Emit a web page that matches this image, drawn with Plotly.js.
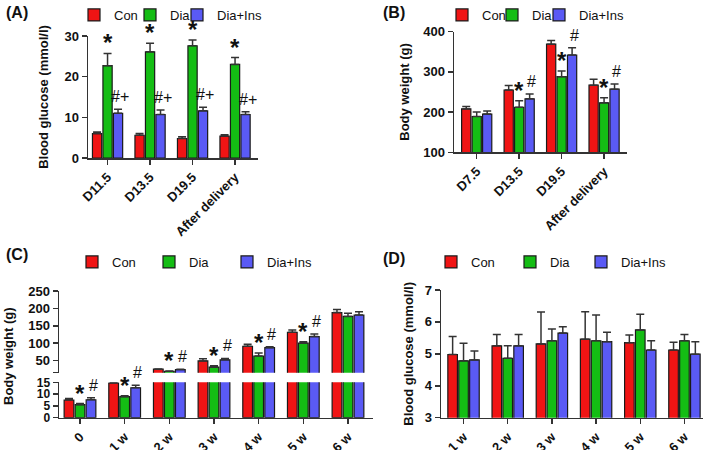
<!DOCTYPE html>
<html>
<head>
<meta charset="utf-8">
<script src="https://cdn.plot.ly/plotly-3.0.1.min.js"></script>
<style>
  html, body { margin: 0; padding: 0; background: #fff; }
  #chart { width: 709px; height: 450px; }
</style>
</head>
<body>
<div id="chart"></div>
<script>
const W = 709, H = 450;
const groups = ["Con", "Dia", "Dia+Ins"];
const colors = ["#f01414", "#14bd14", "#5a5af5"];

// (A) maternal blood glucose, mmol/l
const catA = ["D11.5", "D13.5", "D19.5", "After delivery"];
const conA = [6.0, 5.6, 4.8, 5.4];
const conAErr = [0.4, 0.4, 0.4, 0.3];
const diaA = [22.7, 26.1, 27.6, 23.0];
const diaAErr = [3.0, 2.1, 1.4, 1.7];
const insA = [11.0, 10.7, 11.6, 10.7];
const insAErr = [1.0, 1.1, 0.9, 0.7];
const diaAMark = ["*", "*", "*", "*"];
const insAMark = ["#+", "#+", "#+", "#+"];

// (B) maternal body weight, g
const catB = ["D7.5", "D13.5", "D19.5", "After delivery"];
const conB = [208, 255, 369, 267];
const conBErr = [6, 11, 9, 15];
const diaB = [189, 212, 288, 223];
const diaBErr = [11, 16, 14, 13];
const insB = [195, 233, 342, 257];
const insBErr = [8, 12, 18, 13];
const diaBMark = ["", "*", "*", "*"];
const insBMark = ["", "#", "#", "#"];

// (C) offspring body weight, g (axis broken at 15)
const catC = ["0", "1 w", "2 w", "3 w", "4 w", "5 w", "6 w"];
const conC = [7.5, 14.7, 25, 49, 91, 131, 188];
const conCErr = [0.6, 0.2, 1, 6, 6, 7, 9];
const diaC = [5.5, 8.9, 19, 31, 63, 100, 177];
const diaCErr = [0.5, 0.4, 1, 4, 9, 4, 9];
const insC = [7.6, 12.7, 24, 52, 87, 119, 181];
const insCErr = [0.9, 1.0, 1, 4, 3, 7, 9];
const diaCMark = ["*", "*", "*", "*", "*", "*", ""];
const insCMark = ["#", "#", "#", "#", "#", "#", ""];
const breakC = 15;

// (D) offspring blood glucose, mmol/l
const catD = ["1 w", "2 w", "3 w", "4 w", "5 w", "6 w"];
const conD = [4.98, 5.25, 5.31, 5.46, 5.35, 5.12];
const conDErr = [0.56, 0.36, 1.0, 0.86, 0.24, 0.24];
const diaD = [4.78, 4.86, 5.41, 5.41, 5.75, 5.41];
const diaDErr = [0.55, 0.39, 0.37, 0.81, 0.49, 0.2];
const insD = [4.81, 5.25, 5.65, 5.38, 5.12, 4.99];
const insDErr = [0.28, 0.36, 0.2, 0.3, 0.29, 0.39];

const FONT = "Liberation Sans, Arial, sans-serif";
const bargap = 0.26;

// pixel helpers for layout boxes
const fx = px => px / W;
const fy = py => 1 - py / H;

const panels = {
  A: { x: [88, 258], range: [-0.46, 3.54], legendX: [74, 130, 177], legendY: 0 },
  B: { x: [454, 627], range: [-0.535, 3.54], legendX: [442, 492, 539], legendY: 0 },
  C: { x: [59, 373], range: [-0.47, 6.56], legendX: [72, 149, 227], legendY: 247 },
  D: { x: [441, 703], range: [-0.51, 5.42], legendX: [431, 510, 581], legendY: 247 },
};

let legendCount = 0;
const legends = {};
function nextLegend(p, i) {
  legendCount += 1;
  const id = legendCount === 1 ? "legend" : "legend" + legendCount;
  legends[id] = {
    orientation: "h",
    x: fx(p.legendX[i]), xanchor: "left",
    y: fy(p.legendY), yanchor: "top",
    font: { family: FONT, size: 13, color: "#111" },
    bgcolor: "rgba(0,0,0,0)",
  };
  return id;
}

function bars(cats, vals, errs, i, xa, ya, legend) {
  return {
    type: "bar",
    name: groups[i],
    x: cats,
    y: vals,
    xaxis: xa,
    yaxis: ya,
    legend: legend || "legend",
    showlegend: !!legend,
    marker: { color: colors[i], line: { color: "#1a1a1a", width: 1.2 } },
    error_y: {
      type: "data",
      symmetric: false,
      array: errs,
      arrayminus: errs.map(() => 0),
      color: "#333",
      thickness: 1.5,
      width: 4,
    },
    hoverinfo: "skip",
  };
}

// the upper part of the broken axis only carries bars that reach past the break
const aboveBreak = vals => vals.map(v => (v > breakC ? v : null));

let data = [];
[[conA, conAErr], [diaA, diaAErr], [insA, insAErr]].forEach((s, i) =>
  data.push(bars(catA, s[0], s[1], i, "x", "y", nextLegend(panels.A, i))));
[[conB, conBErr], [diaB, diaBErr], [insB, insBErr]].forEach((s, i) =>
  data.push(bars(catB, s[0], s[1], i, "x2", "y2", nextLegend(panels.B, i))));
[[conC, conCErr], [diaC, diaCErr], [insC, insCErr]].forEach((s, i) => {
  data.push(bars(catC, s[0], s[1], i, "x3", "y3", nextLegend(panels.C, i)));
  data.push(bars(catC, aboveBreak(s[0]), s[1], i, "x3", "y5", null));
});
[[conD, conDErr], [diaD, diaDErr], [insD, insDErr]].forEach((s, i) =>
  data.push(bars(catD, s[0], s[1], i, "x4", "y4", nextLegend(panels.D, i))));

const tickFont = { family: FONT, size: 13, color: "#111", weight: "bold" };
const titleFont = { family: FONT, size: 13, color: "#111", weight: "bold" };

function xAxis(p, anchor) {
  return {
    domain: [fx(p.x[0]), fx(p.x[1])],
    range: p.range,
    anchor: anchor,
    type: "category",
    showline: true, linecolor: "#333", linewidth: 1.5,
    ticks: "outside", ticklen: 5, tickwidth: 1.5, tickcolor: "#333",
    tickangle: -45,
    tickfont: tickFont,
    showgrid: false, zeroline: false, fixedrange: true,
  };
}

function yAxis(top, bottom, range, anchor, extra) {
  return Object.assign({
    domain: [fy(bottom), fy(top)],
    range: range,
    anchor: anchor,
    showline: true, linecolor: "#333", linewidth: 1.5,
    ticks: "outside", ticklen: 5, tickwidth: 1.5, tickcolor: "#333",
    tickfont: tickFont,
    showgrid: false, zeroline: false, fixedrange: true,
  }, extra || {});
}

// significance marks sit on top of each error bar, shifted to their bar in the group
function marks(p, cats, vals, errs, labels, i, xa, yaFor, opts) {
  const pxPerCat = (p.x[1] - p.x[0]) / (p.range[1] - p.range[0]);
  const step = pxPerCat * (1 - bargap) / 3;
  const out = [];
  labels.forEach((t, j) => {
    if (!t) return;
    const top = vals[j] + errs[j];
    out.push({
      xref: xa, yref: yaFor(top),
      x: cats[j], y: top,
      text: t, showarrow: false,
      xanchor: "center", yanchor: "bottom",
      xshift: (i - 1) * step + opts.xshift,
      yshift: opts.yshift,
      font: opts.font,
    });
  });
  return out;
}

const starStyle = { xshift: 0, yshift: -5, font: { family: FONT, size: 24, color: "#111", weight: "bold" } };
const hashStyle = { xshift: 2, yshift: 2, font: { family: FONT, size: 16, color: "#111" } };
const yC = v => (v > breakC ? "y5" : "y3");

let annotations = [];
annotations = annotations.concat(
  marks(panels.A, catA, diaA, diaAErr, diaAMark, 1, "x", () => "y", starStyle),
  marks(panels.A, catA, insA, insAErr, insAMark, 2, "x", () => "y", hashStyle),
  marks(panels.B, catB, diaB, diaBErr, diaBMark, 1, "x2", () => "y2", starStyle),
  marks(panels.B, catB, insB, insBErr, insBMark, 2, "x2", () => "y2", hashStyle),
  marks(panels.C, catC, diaC, diaCErr, diaCMark, 1, "x3", yC, starStyle),
  marks(panels.C, catC, insC, insCErr, insCMark, 2, "x3", yC, hashStyle),
);

// panel letters and the shared title of the broken axis in (C)
const letterFont = { family: FONT, size: 16, color: "#111", weight: "bold" };
[["(A)", 4, 13], ["(B)", 381, 13], ["(C)", 4, 254], ["(D)", 381, 258]].forEach(l =>
  annotations.push({
    xref: "paper", yref: "paper", x: fx(l[1]), y: fy(l[2]),
    xanchor: "left", yanchor: "middle", text: l[0], showarrow: false, font: letterFont,
  }));
annotations.push({
  xref: "paper", yref: "paper", x: fx(8), y: fy(356),
  xanchor: "center", yanchor: "middle", textangle: -90,
  text: "Body weight (g)", showarrow: false, font: titleFont,
});

const layout = Object.assign({
  width: W, height: H,
  margin: { l: 0, r: 0, t: 0, b: 0 },
  paper_bgcolor: "#fff", plot_bgcolor: "#fff",
  barmode: "group", bargap: bargap, bargroupgap: 0.12,
  showlegend: true,
  font: { family: FONT, color: "#111" },

  xaxis: xAxis(panels.A, "y"),
  yaxis: yAxis(36, 158, [0, 30], "x", {
    dtick: 10,
    title: { text: "Blood glucose (mmol/l)", font: titleFont, standoff: 13 },
  }),

  xaxis2: xAxis(panels.B, "y2"),
  yaxis2: yAxis(31.7, 152.3, [100, 400], "x2", {
    dtick: 100,
    title: { text: "Body weight (g)", font: titleFont, standoff: 10 },
  }),

  xaxis3: xAxis(panels.C, "y3"),
  yaxis3: yAxis(382.3, 417.7, [0, breakC], "x3", {
    dtick: 5,
    tickfont: Object.assign({}, tickFont, { size: 12 }),
  }),
  yaxis5: yAxis(291, 372.7, [breakC, 250], "x3", {
    tickmode: "array",
    tickvals: [breakC, 50, 100, 150, 200, 250],
    ticktext: ["", "50", "100", "150", "200", "250"],
  }),

  xaxis4: xAxis(panels.D, "y4"),
  yaxis4: yAxis(290, 417.7, [3, 7], "x4", {
    dtick: 1,
    title: { text: "Blood glucose (mmol/l)", font: titleFont, standoff: 8 },
  }),

  annotations: annotations,
}, legends);

Plotly.newPlot("chart", data, layout, { staticPlot: true, displayModeBar: false });
</script>
</body>
</html>
